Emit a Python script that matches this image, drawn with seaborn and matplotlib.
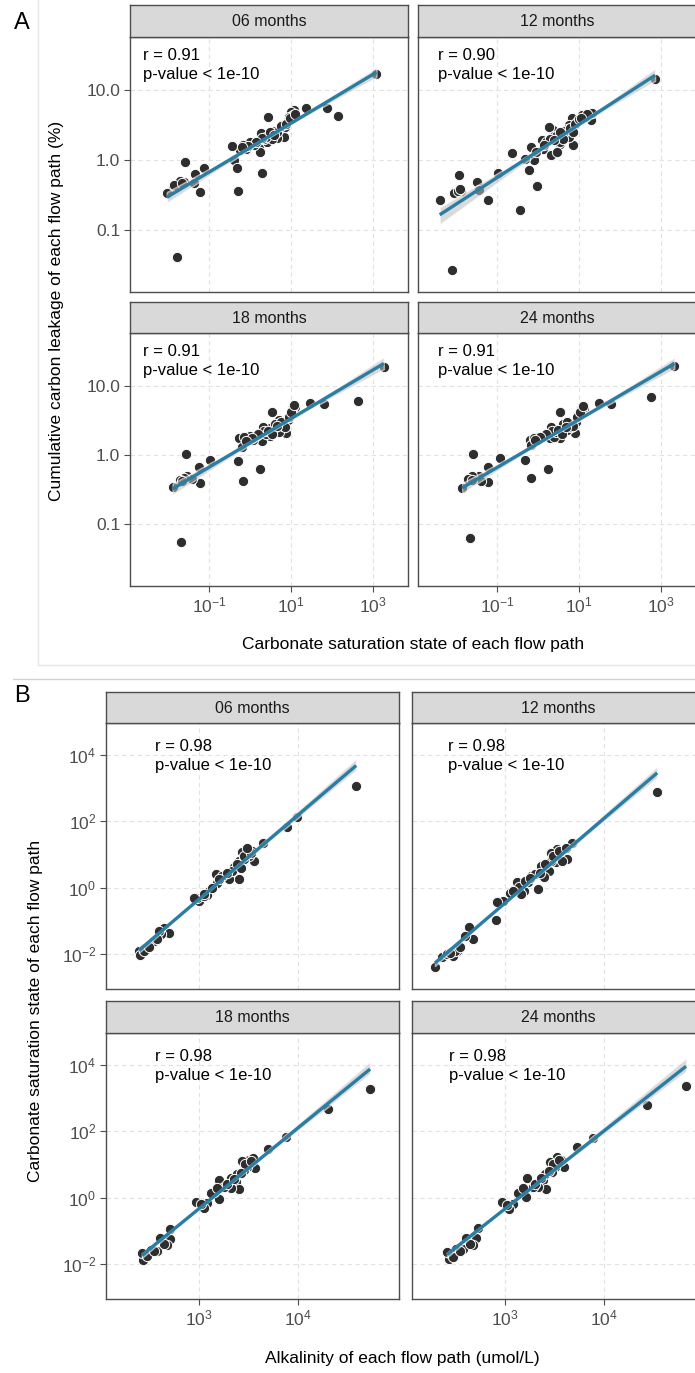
import numpy as np
import pandas as pd
import matplotlib
matplotlib.use("Agg")
import matplotlib.pyplot as plt
import seaborn as sns
from matplotlib.lines import Line2D
from matplotlib.collections import PolyCollection

# ---------------- data (log10 values) ----------------
months = ["06 months", "12 months", "18 months", "24 months"]
r_A = ["0.91", "0.90", "0.91", "0.91"]
r_B = ["0.98", "0.98", "0.98", "0.98"]
p_text = "p-value < 1e-10"

# Panel A: x = log10(carbonate saturation state), y = log10(cumulative carbon leakage %)
A06_log_omega = [3.09, 2.16, 1.88, 1.37, 1.08, 1.00, 0.45, 0.92, 0.83, 0.67, 0.50, 0.26, 0.21, 0.24,
                 0.42, 0.01, -0.16, -0.24, -0.45, -0.40, -0.32, 0.30, -0.28, -1.12, -1.34, -1.59, -1.60,
                 -1.21, -1.36, -1.89, -2.03, -1.79, 0.70, 0.78, 0.60, 0.85, 0.55, 0.35, 0.10, -0.10,
                 -1.75, -1.70, 1.05, 0.95, 0.65, 0.75, 0.88, 0.98, 0.40, 0.30, 0.15, -0.05, -0.20,
                 0.50, -1.80, -1.85, -1.65, 1.10, 0.58]
A06_log_leak = [1.23, 0.63, 0.75, 0.74, 0.71, 0.68, 0.61, 0.57, 0.33, 0.32, 0.35, 0.39, 0.19, 0.11,
                0.26, 0.26, 0.21, 0.14, 0.20, 0.00, -0.11, -0.19, -0.45, -0.11, -0.20, -0.03, -0.32,
                -0.46, -0.33, -0.38, -0.47, -1.39, 0.45, 0.50, 0.42, 0.47, 0.30, 0.30, 0.22, 0.15,
                -0.35, -0.30, 0.65, 0.62, 0.40, 0.48, 0.52, 0.60, 0.33, 0.32, 0.25, 0.20, 0.18,
                0.40, -0.38, -0.36, -0.33, 0.66, 0.36]

A12_log_omega = [2.86, 1.29, 1.31, 1.08, 0.83, 0.75, 0.67, 0.86, 0.53, 0.36, 0.26, 0.09, 0.13, -0.17,
                 -0.09, -0.32, -0.21, -0.03, -0.63, -0.45, -0.98, -1.21, -1.48, -1.45, -1.92, -1.89,
                 -2.06, -2.40, -2.09, 0.31, 0.46, 0.55, 0.75, 0.70, 0.60, 0.40, 0.95, 0.20, 1.15,
                 0.65, 0.78, 0.90, 1.00, 0.45, 0.30, 0.15, -0.05, 0.55, -1.95, -1.90, 1.20, 0.85,
                 0.62, 1.05, 0.38]
A12_log_leak = [1.16, 0.57, 0.67, 0.65, 0.60, 0.50, 0.40, 0.22, 0.23, 0.43, 0.47, 0.28, 0.16, 0.19,
                0.00, 0.02, -0.15, -0.37, 0.10, -0.71, -0.19, -0.58, -0.32, -0.43, -0.21, -0.44,
                -0.48, -0.57, -1.57, 0.07, 0.11, 0.26, 0.33, 0.45, 0.38, 0.35, 0.55, 0.25, 0.62,
                0.42, 0.46, 0.52, 0.58, 0.35, 0.30, 0.22, 0.12, 0.40, -0.45, -0.42, 0.66, 0.40,
                0.30, 0.60, 0.28]

A18_log_omega = [3.27, 2.63, 1.81, 1.46, 1.09, 1.03, 0.54, 0.92, 0.89, 0.70, 0.49, 0.31, 0.29, 0.49,
                 0.00, -0.26, -0.20, -0.30, 0.25, -0.18, -0.97, -1.25, -1.57, -1.21, -1.53, -1.41,
                 -1.68, -1.89, -1.68, 0.70, 0.74, 0.08, 0.17, 1.05, 0.60, 0.80, -1.62, -0.15, 0.40,
                 0.62, 0.75, 0.95, 1.00, 0.35, 0.20, 0.05, -0.10, 0.45, -1.72, -1.65, 1.08, 0.55,
                 0.85, 0.65]
A18_log_leak = [1.27, 0.78, 0.74, 0.75, 0.69, 0.67, 0.62, 0.51, 0.32, 0.33, 0.39, 0.41, 0.20, 0.27,
                0.27, 0.25, 0.12, -0.09, -0.20, -0.37, -0.07, -0.17, 0.01, -0.40, -0.30, -0.35,
                -0.34, -0.46, -1.25, 0.51, 0.46, 0.22, 0.29, 0.70, 0.40, 0.42, -0.33, 0.26, 0.30,
                0.45, 0.48, 0.55, 0.62, 0.35, 0.30, 0.25, 0.20, 0.35, -0.36, -0.38, 0.72, 0.30,
                0.40, 0.42]

A24_log_omega = [3.33, 2.77, 1.78, 1.49, 1.12, 1.04, 0.54, 0.94, 0.90, 0.71, 0.54, 0.32, 0.29, 0.53,
                 0.01, -0.20, -0.18, -0.31, 0.24, -0.16, -0.92, -1.23, -1.59, -1.23, -1.44, -1.40,
                 -1.64, -1.85, -1.67, 0.75, -0.03, 0.38, 1.08, 0.65, 0.80, -1.60, 0.45, -0.10,
                 0.62, 0.72, 0.95, 1.02, 0.35, 0.20, 0.05, -0.08, 0.48, -1.70, -1.62, 1.10, 0.58,
                 0.85, 0.68]
A24_log_leak = [1.29, 0.83, 0.73, 0.75, 0.68, 0.66, 0.62, 0.48, 0.32, 0.36, 0.31, 0.40, 0.24, 0.24,
                0.26, 0.21, 0.14, -0.07, -0.20, -0.33, -0.05, -0.17, 0.01, -0.39, -0.31, -0.37,
                -0.33, -0.47, -1.20, 0.45, 0.21, 0.26, 0.67, 0.42, 0.40, -0.31, 0.33, 0.24,
                0.44, 0.47, 0.55, 0.62, 0.35, 0.30, 0.26, 0.22, 0.36, -0.34, -0.36, 0.70, 0.30,
                0.42, 0.40]

# Panel B: x = log10(alkalinity umol/L), y = log10(carbonate saturation state)
B06_log_alk = [4.58, 3.99, 3.89, 3.65, 3.56, 3.48, 3.43, 3.50, 3.40, 3.35, 3.40, 3.30, 3.17, 3.18,
               3.10, 3.08, 2.97, 3.00, 2.65, 2.70, 2.62, 2.55, 2.48, 2.40, 2.41, 2.45, 3.45, 3.53,
               3.13, 3.23, 3.33, 2.98, 2.60, 3.05, 3.28, 3.38, 3.45, 3.52, 3.20, 3.05, 2.95, 2.45,
               2.50, 2.58, 3.48, 3.42]
B06_log_omega = [3.05, 2.12, 1.83, 1.34, 0.81, 1.16, 1.06, 0.96, 0.81, 0.61, 0.25, 0.25, 0.42, 0.15,
                 -0.10, -0.23, -0.28, -0.40, -1.21, -1.36, -1.41, -1.61, -1.81, -1.91, -2.03, -1.86,
                 0.86, 1.11, 0.00, 0.35, 0.51, -0.30, -1.31, -0.25, 0.45, 0.70, 0.95, 1.05, 0.25,
                 -0.20, -0.32, -1.90, -1.80, -1.55, 1.20, 0.60]

B12_log_alk = [4.53, 3.68, 3.63, 3.52, 3.46, 3.51, 3.44, 3.39, 3.33, 3.26, 3.19, 3.12, 3.05, 2.98,
               2.92, 2.91, 2.68, 2.64, 2.60, 2.52, 2.48, 2.37, 2.30, 3.23, 3.46, 3.36, 3.14, 2.42,
               3.58, 3.16, 3.30, 3.40, 3.48, 3.55, 3.20, 3.08, 2.50, 2.45, 2.55, 3.62, 3.35, 3.25]
B12_log_omega = [2.87, 1.34, 0.86, 1.17, 1.05, 0.76, 0.51, 0.31, -0.04, 0.34, -0.09, 0.16, -0.16,
                 -0.39, -0.44, -0.97, -1.55, -1.20, -1.45, -1.90, -2.05, -2.10, -2.38, 0.16, 0.81,
                 0.66, 0.01, -2.00, 0.81, -0.19, 0.40, 0.70, 0.95, 1.10, 0.20, -0.10, -1.90, -1.98,
                 -1.80, 1.20, 0.45, 0.30]

B18_log_alk = [4.72, 4.30, 3.88, 3.70, 3.57, 3.50, 3.43, 3.48, 3.37, 3.40, 3.32, 3.32, 3.20, 3.20,
               3.15, 3.08, 3.05, 2.97, 2.71, 2.71, 2.61, 2.58, 2.47, 2.44, 2.43, 2.68, 3.12, 3.45,
               3.55, 2.52, 3.25, 3.28, 3.38, 3.46, 3.52, 3.18, 3.02, 2.48, 2.55, 2.65, 3.42, 3.35]
B18_log_omega = [3.28, 2.66, 1.81, 1.47, 0.90, 1.14, 1.09, 0.93, 0.48, 0.25, 0.28, 0.58, 0.53, -0.03,
                 0.18, -0.16, -0.32, -0.14, -0.95, -1.26, -1.23, -1.60, -1.73, -1.88, -1.68, -1.43,
                 0.13, 0.83, 1.19, -1.58, 0.33, 0.40, 0.70, 1.00, 1.10, 0.30, -0.20, -1.75, -1.62,
                 -1.40, 0.75, 0.55]

B24_log_alk = [4.82, 4.43, 3.89, 3.73, 3.60, 3.52, 3.45, 3.50, 3.38, 3.41, 3.33, 3.22, 3.21, 3.16,
               3.08, 3.04, 2.97, 2.73, 2.71, 2.61, 2.58, 2.46, 2.44, 2.42, 2.68, 3.13, 3.47, 3.57,
               2.51, 3.28, 3.30, 3.40, 3.48, 3.55, 3.18, 3.02, 2.48, 2.55, 2.65, 3.44, 3.36]
B24_log_omega = [3.35, 2.79, 1.79, 1.51, 0.93, 1.23, 1.08, 0.93, 0.53, 0.25, 0.33, 0.58, 0.02, 0.22,
                 -0.18, -0.33, -0.13, -0.91, -1.23, -1.23, -1.56, -1.68, -1.85, -1.63, -1.43, 0.14,
                 0.78, 1.13, -1.56, 0.31, 0.42, 0.72, 1.02, 1.12, 0.28, -0.22, -1.78, -1.62, -1.40,
                 0.80, 0.58]

A_xticks = [-1, 1, 3]
A_xticklabels = ["$10^{-1}$", "$10^{1}$", "$10^{3}$"]
A_yticks = [-1, 0, 1]
A_yticklabels = ["0.1", "1.0", "10.0"]
B_xticks = [3, 4]
B_xticklabels = ["$10^{3}$", "$10^{4}$"]
B_yticks = [-2, 0, 2, 4]
B_yticklabels = ["$10^{-2}$", "$10^{0}$", "$10^{2}$", "$10^{4}$"]

A_xlabel = "Carbonate saturation state of each flow path"
A_ylabel = "Cumulative carbon leakage of each flow path (%)"
B_xlabel = "Alkalinity of each flow path (umol/L)"
B_ylabel = "Carbonate saturation state of each flow path"

# ---------------- styling ----------------
sns.set_theme(style="white")
plt.rcParams["font.family"] = ["Liberation Sans", "DejaVu Sans"]
plt.rcParams["mathtext.fontset"] = "custom"
plt.rcParams["mathtext.rm"] = "Liberation Sans"
plt.rcParams["mathtext.it"] = "Liberation Sans:italic"
plt.rcParams["mathtext.bf"] = "Liberation Sans:bold"

LINE = "#2A7DA3"
PT = "#2E2E2E"
BORDER = "#4D4D4D"
GRID = "#E2E2E2"
TICKC = "#4D4D4D"

W, H = 695, 1373
fig = plt.figure(figsize=(W / 100, H / 100), dpi=100)
fig.patch.set_facecolor("white")


def box(x0, y0, x1, y1):
    return [x0 / W, 1 - y1 / H, (x1 - x0) / W, (y1 - y0) / H]


def panel(rect, strip_top, label, x, y, xlim, ylim, xticks, xtl, yticks, ytl,
          show_x, show_y, txt, txt_pos):
    x0, y0, x1, y1 = rect
    ax = fig.add_axes(box(x0, y0, x1, y1))
    df = pd.DataFrame({"x": x, "y": y})
    sns.scatterplot(data=df, x="x", y="y", ax=ax, s=55, color=PT,
                    edgecolor="white", linewidth=0.7, zorder=3, legend=False)
    sns.regplot(data=df, x="x", y="y", ax=ax, scatter=False, ci=68, truncate=True,
                color=LINE, line_kws=dict(lw=2.4, zorder=5, solid_capstyle="butt"))
    for c in ax.collections:
        if isinstance(c, PolyCollection):
            c.set_facecolor("#BDBDBD")
            c.set_alpha(0.55)
            c.set_zorder(4)
    ax.set_xlim(*xlim)
    ax.set_ylim(*ylim)
    ax.set_xticks(xticks)
    ax.set_yticks(yticks)
    ax.set_xticklabels(xtl if show_x else [])
    ax.set_yticklabels(ytl if show_y else [])
    ax.tick_params(axis="x", length=4 if show_x else 0, width=0.8, color=TICKC,
                   labelcolor=TICKC, labelsize=12.5, pad=3, bottom=True)
    ax.tick_params(axis="y", length=4 if show_y else 0, width=0.8, color=TICKC,
                   labelcolor=TICKC, labelsize=12.5, pad=3, left=True)
    ax.grid(True, ls=(0, (4, 3)), color=GRID, lw=0.8)
    ax.set_axisbelow(True)
    ax.set_xlabel("")
    ax.set_ylabel("")
    for s in ax.spines.values():
        s.set_color(BORDER)
        s.set_linewidth(1.0)
    ax.text(txt_pos[0], txt_pos[1], txt, transform=ax.transAxes, ha="left", va="top",
            fontsize=12, color="black", linespacing=1.3, zorder=6)
    # strip
    sax = fig.add_axes(box(x0, strip_top, x1, y0))
    sax.set_facecolor("#D9D9D9")
    sax.set_xticks([])
    sax.set_yticks([])
    for s in sax.spines.values():
        s.set_color(BORDER)
        s.set_linewidth(1.0)
    sax.text(0.5, 0.47, label, transform=sax.transAxes, ha="center", va="center",
             fontsize=11.5, color="#1A1A1A")
    return ax


A_xlim = (-2.93, 3.86)
A_ylim = (-1.89, 1.76)
B_xlim = (2.07, 5.01)
B_ylim = (-3.05, 4.95)

A_data = [(A06_log_omega, A06_log_leak), (A12_log_omega, A12_log_leak),
          (A18_log_omega, A18_log_leak), (A24_log_omega, A24_log_leak)]
B_data = [(B06_log_alk, B06_log_omega), (B12_log_alk, B12_log_omega),
          (B18_log_alk, B18_log_omega), (B24_log_alk, B24_log_omega)]

A_rects = [(130, 37, 408, 292), (418, 37, 696, 292), (130, 333, 408, 586), (418, 333, 696, 586)]
A_strip = [5, 5, 302, 302]
A_txt = [(0.047, 0.955), (0.072, 0.955), (0.047, 0.955), (0.072, 0.955)]
B_rects = [(106, 723, 399, 989), (412, 723, 705, 989), (106, 1033, 399, 1299), (412, 1033, 705, 1299)]
B_strip = [692, 692, 1001, 1001]
B_txt = [(0.167, 0.94), (0.123, 0.94), (0.167, 0.94), (0.127, 0.94)]

for i in range(4):
    panel(A_rects[i], A_strip[i], months[i], A_data[i][0], A_data[i][1], A_xlim, A_ylim,
          A_xticks, A_xticklabels, A_yticks, A_yticklabels,
          show_x=(i >= 2), show_y=(i % 2 == 0),
          txt=f"r = {r_A[i]}\n{p_text}", txt_pos=A_txt[i])
    panel(B_rects[i], B_strip[i], months[i], B_data[i][0], B_data[i][1], B_xlim, B_ylim,
          B_xticks, B_xticklabels, B_yticks, B_yticklabels,
          show_x=(i >= 2), show_y=(i % 2 == 0),
          txt=f"r = {r_B[i]}\n{p_text}", txt_pos=B_txt[i])

# axis titles
fig.text(413 / W, 1 - 645 / H, A_xlabel, ha="center", va="center", fontsize=12.5, color="black")
fig.text(57 / W, 1 - 311 / H, A_ylabel, ha="center", va="center", rotation=90, fontsize=12.5, color="black")
fig.text(402 / W, 1 - 1359 / H, B_xlabel, ha="center", va="center", fontsize=12.5, color="black")
fig.text(36 / W, 1 - 1011 / H, B_ylabel, ha="center", va="center", rotation=90, fontsize=12.5, color="black")

# panel letters
fig.text(22 / W, 1 - 23 / H, "A", ha="center", va="center", fontsize=17, color="black")
fig.text(22 / W, 1 - 696 / H, "B", ha="center", va="center", fontsize=17, color="black")

# subfigure frame and separator
fig.add_artist(Line2D([38 / W, 38 / W], [1, 1 - 665 / H], color="#E6E6E6", lw=1.0))
fig.add_artist(Line2D([38 / W, 1], [1 - 665 / H, 1 - 665 / H], color="#E6E6E6", lw=1.0))
fig.add_artist(Line2D([13 / W, 1], [1 - 679 / H, 1 - 679 / H], color="#D2D2D2", lw=1.0))

fig.savefig("out.png", dpi=100, facecolor="white")
